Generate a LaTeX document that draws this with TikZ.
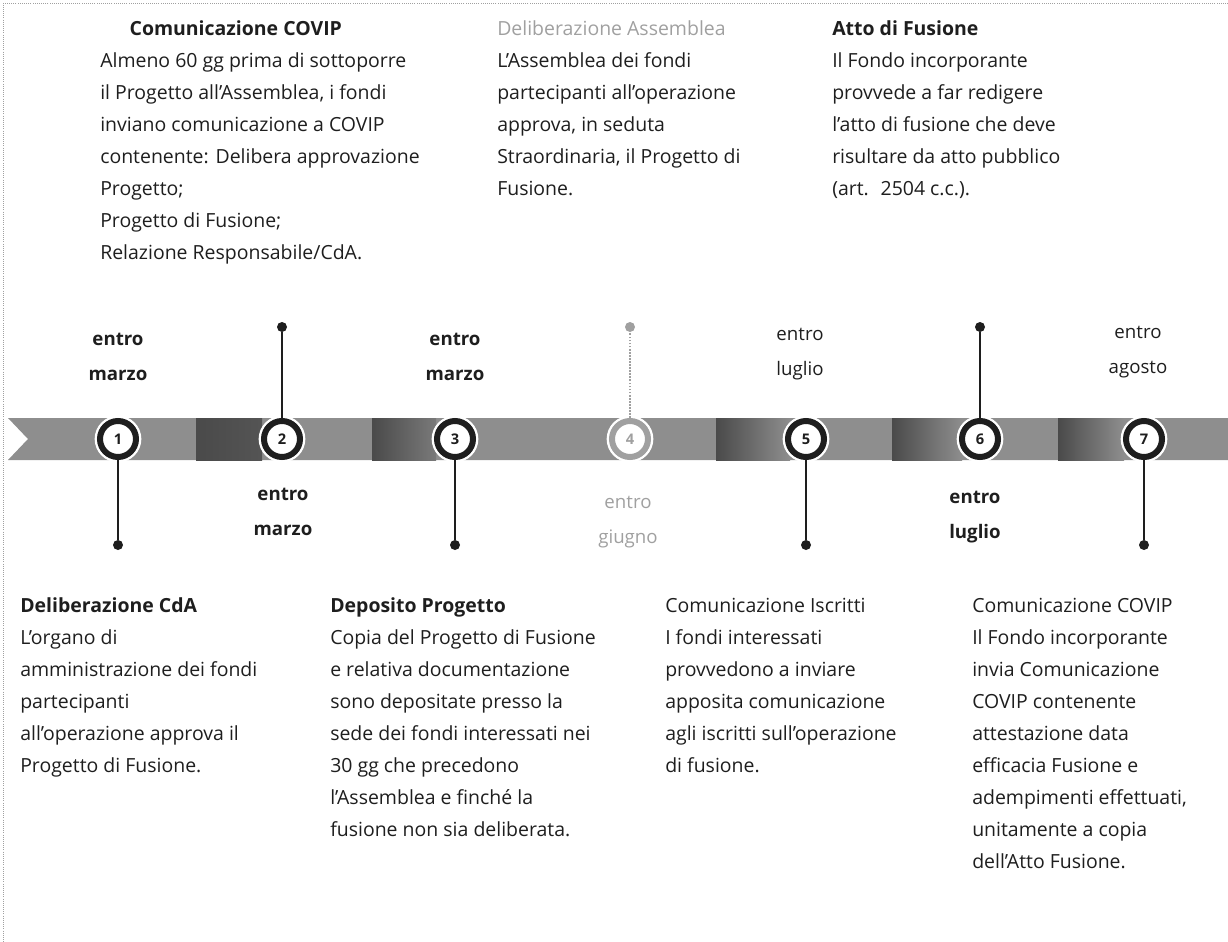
\documentclass[tikz,border=0pt]{standalone}
\usepackage{fontspec}
\setmainfont{Open Sans}
\usetikzlibrary{positioning}

\definecolor{ink}{HTML}{1E1E1E}
\definecolor{bandmid}{HTML}{8E8E8E}
\definecolor{banddark}{HTML}{4A4A4A}
\definecolor{faded}{HTML}{A0A0A0}

\begin{document}
\begin{tikzpicture}[
    x=0.75pt, y=-0.75pt,
    milestone/.style={circle, fill=white, draw=ink, line width=4.5pt, minimum size=27pt, inner sep=0pt,
        preaction={draw=white, line width=8pt}, text=ink, font=\fontsize{11}{11}\selectfont\bfseries},
    pin/.style={circle, fill=ink, minimum size=7.5pt, inner sep=0pt},
    stem/.style={ink, line width=1.3pt},
    when/.style={align=center, inner sep=0pt, text=ink, font=\fontsize{14}{26}\selectfont\bfseries},
    block/.style={anchor=north west, align=left, inner sep=0pt, text=ink, font=\fontsize{14.6}{24}\selectfont}
]
    \useasboundingbox (0,0) rectangle (1228,942);
    \draw[faded, densely dotted, line width=0.6pt] (1228,3) -- (3,3) -- (3,942);

    % ribbon
    \fill[bandmid] (8,418) -- (1228,418) -- (1228,460) -- (8,460) -- (28,439) -- cycle;
    \shade[left color=banddark, right color=banddark!85!bandmid] (196,418) rectangle (262,460);
    \shade[left color=banddark, right color=bandmid!70!banddark] (372,418) rectangle (436,460);
    \shade[left color=banddark, right color=bandmid] (716,418) rectangle (790,460);
    \shade[left color=banddark, right color=bandmid] (892,418) rectangle (962,460);
    \shade[left color=banddark, right color=bandmid] (1058,418) rectangle (1124,460);

    % pins
    \node[pin] (p1) at (118,545) {};
    \node[pin] (p2) at (282,327) {};
    \node[pin] (p3) at (455,545) {};
    \node[pin, fill=faded] (p4) at (630,327) {};
    \node[pin] (p5) at (806,545) {};
    \node[pin] (p6) at (980,327) {};
    \node[pin] (p7) at (1144,545) {};

    % milestones
    \node[milestone] (m1) at (118,439) {1};
    \node[milestone] (m2) at (282,439) {2};
    \node[milestone] (m3) at (455,439) {3};
    \node[milestone, draw=faded, text=faded] (m4) at (630,439) {4};
    \node[milestone] (m5) at (806,439) {5};
    \node[milestone] (m6) at (980,439) {6};
    \node[milestone] (m7) at (1144,439) {7};

    \draw[stem] (m1) -- (p1);
    \draw[stem] (m2) -- (p2);
    \draw[stem] (m3) -- (p3);
    \draw[stem, faded, densely dotted] (m4) -- (p4);
    \draw[stem] (m5) -- (p5);
    \draw[stem] (m6) -- (p6);
    \draw[stem] (m7) -- (p7);

    % deadlines
    \node[when] (w1) at (118,357) {entro\\marzo};
    \node[when] (w2) at (283,512) {entro\\marzo};
    \node[when] (w3) at (455,357) {entro\\marzo};
    \node[when, text=faded, font=\fontsize{14}{26}\selectfont] (w4) at (628,522) {entro\\giugno};
    \node[when, font=\fontsize{14}{26}\selectfont] (w5) at (800,354) {entro\\luglio};
    \node[when] (w6) at (975,517) {entro\\luglio};
    \node[when, font=\fontsize{14}{26}\selectfont] (w7) at (1138,352) {entro\\agosto};

    % descriptions above the ribbon
    \node[block] (d1) at (100,13) {\strut\hspace*{22pt}\textbf{Comunicazione COVIP}\\
        Almeno 60 gg prima di sottoporre\\il Progetto all’Assemblea, i fondi\\
        inviano comunicazione a COVIP\\contenente: Delibera approvazione\\
        Progetto;\\Progetto di Fusione;\\Relazione Responsabile/CdA.};
    \node[block] (d4) at (497,13) {\strut\textcolor{faded}{Deliberazione Assemblea}\\
        L’Assemblea dei fondi\\partecipanti all’operazione\\approva, in seduta\\
        Straordinaria, il Progetto di\\Fusione.};
    \node[block] (d6) at (832,13) {\strut\textbf{Atto di Fusione}\\
        Il Fondo incorporante\\provvede a far redigere\\l’atto di fusione che deve\\
        risultare da atto pubblico\\(art.~ 2504 c.c.).};

    % descriptions below the ribbon
    \node[block] (d2) at (20,590) {\strut\textbf{Deliberazione CdA}\\
        L’organo di\\amministrazione dei fondi\\partecipanti\\
        all’operazione approva il\\Progetto di Fusione.};
    \node[block] (d3) at (330,590) {\strut\textbf{Deposito Progetto}\\
        Copia del Progetto di Fusione\\e relativa documentazione\\sono depositate presso la\\
        sede dei fondi interessati nei\\30 gg che precedono\\l’Assemblea e finché la\\
        fusione non sia deliberata.};
    \node[block] (d5) at (665,590) {\strut Comunicazione Iscritti\\
        I fondi interessati\\provvedono a inviare\\apposita comunicazione\\
        agli iscritti sull’operazione\\di fusione.};
    \node[block] (d7) at (972,590) {\strut Comunicazione COVIP\\
        Il Fondo incorporante\\invia Comunicazione\\COVIP contenente\\
        attestazione data\\efficacia Fusione e\\adempimenti effettuati,\\
        unitamente a copia\\dell’Atto Fusione.};
\end{tikzpicture}
\end{document}
